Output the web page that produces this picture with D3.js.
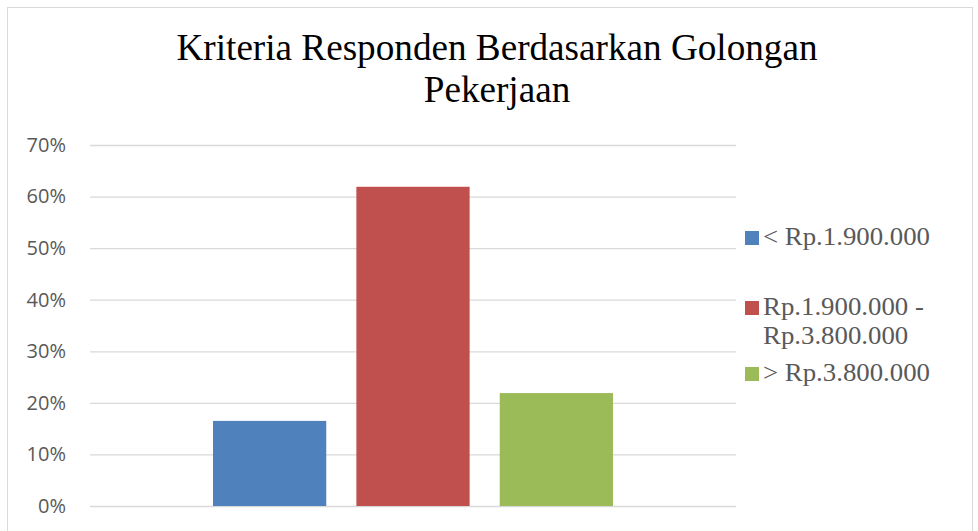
<!DOCTYPE html>
<html><head><meta charset="utf-8">
<script src="https://cdn.jsdelivr.net/npm/d3@7"></script>
<style>body{margin:0;background:#fff}svg{display:block}</style>
</head><body>
<script>
const categories = [""];
const seriesNames = ["< Rp.1.900.000", "Rp.1.900.000 - Rp.3.800.000", "> Rp.3.800.000"];
const seriesValues = [16.5, 61.9, 21.9];
const seriesColors = ["#4f81bd", "#c0504d", "#9bbb59"];
const legendLines = [["< Rp.1.900.000"], ["Rp.1.900.000 -", "Rp.3.800.000"], ["> Rp.3.800.000"]];
const tickValues = [0, 10, 20, 30, 40, 50, 60, 70];
const titleLines = ["Kriteria Responden Berdasarkan Golongan", "Pekerjaan"];

const W = 978, H = 531;
const svg = d3.select("body").append("svg").attr("width", W).attr("height", H);

svg.append("rect").attr("x", 7.5).attr("y", 7.5).attr("width", 965).attr("height", 540)
  .attr("fill", "#fff").attr("stroke", "#d9d9d9").attr("stroke-width", 1);

const plot = {left: 90, right: 736, top: 145, bottom: 506};
const y = d3.scaleLinear().domain([0, 70]).range([plot.bottom, plot.top]);
const x0 = d3.scaleBand().domain(categories).range([plot.left, plot.right]).paddingInner(0).paddingOuter(0.3075);
const x1 = d3.scaleBand().domain(seriesNames).range([0, x0.bandwidth()]).paddingInner(0.21).paddingOuter(0);

// grid
const yAxis = d3.axisLeft(y).tickValues(tickValues).tickSize(-(plot.right - plot.left)).tickFormat(d => d + "%").tickPadding(24);
const gAxis = svg.append("g").attr("transform", `translate(${plot.left},0)`).call(yAxis);
gAxis.select(".domain").remove();
gAxis.selectAll(".tick line").attr("stroke", "#d9d9d9").attr("stroke-width", 1.3);
gAxis.selectAll(".tick text").attr("fill", "#595959").attr("font-family", "'Open Sans', sans-serif").attr("font-size", 20);

// bars
const g = svg.append("g");
categories.forEach(c => {
  g.selectAll("rect.bar").data(seriesValues).enter().append("rect").attr("class", "bar")
    .attr("x", (d, i) => x0(c) + x1(seriesNames[i]))
    .attr("width", x1.bandwidth())
    .attr("y", d => y(d))
    .attr("height", d => y(0) - y(d))
    .attr("fill", (d, i) => seriesColors[i]);
});

// title
const titleSize = 37;
const t1 = svg.append("text").attr("x", 497).attr("y", 60).attr("text-anchor", "middle")
  .attr("font-family", "'Liberation Serif', 'Times New Roman', serif").attr("font-size", titleSize).attr("fill", "#000").text(titleLines[0]);
const f = 641 / t1.node().getComputedTextLength();
t1.attr("textLength", 641).attr("lengthAdjust", "spacingAndGlyphs");
const t2 = svg.append("text").attr("x", 497).attr("y", 102).attr("text-anchor", "middle")
  .attr("font-family", "'Liberation Serif', 'Times New Roman', serif").attr("font-size", titleSize).attr("fill", "#000").text(titleLines[1]);
t2.attr("textLength", t2.node().getComputedTextLength() * f).attr("lengthAdjust", "spacingAndGlyphs");

// legend
const legendY = [245, 315, 381];
const lg = svg.append("g");
let lf = null;
legendLines.forEach((lines, i) => {
  lg.append("rect").attr("x", 745).attr("y", legendY[i] - 14).attr("width", 14).attr("height", 14).attr("fill", seriesColors[i]);
  lines.forEach((ln, j) => {
    const t = lg.append("text").attr("x", 763).attr("y", legendY[i] + j * 29)
      .attr("font-family", "'Liberation Serif', 'Times New Roman', serif").attr("font-size", 25).attr("fill", "#595959").text(ln);
    if (lf === null) lf = 167 / t.node().getComputedTextLength();
    t.attr("textLength", t.node().getComputedTextLength() * lf).attr("lengthAdjust", "spacingAndGlyphs");
  });
});
</script>
</body></html>
